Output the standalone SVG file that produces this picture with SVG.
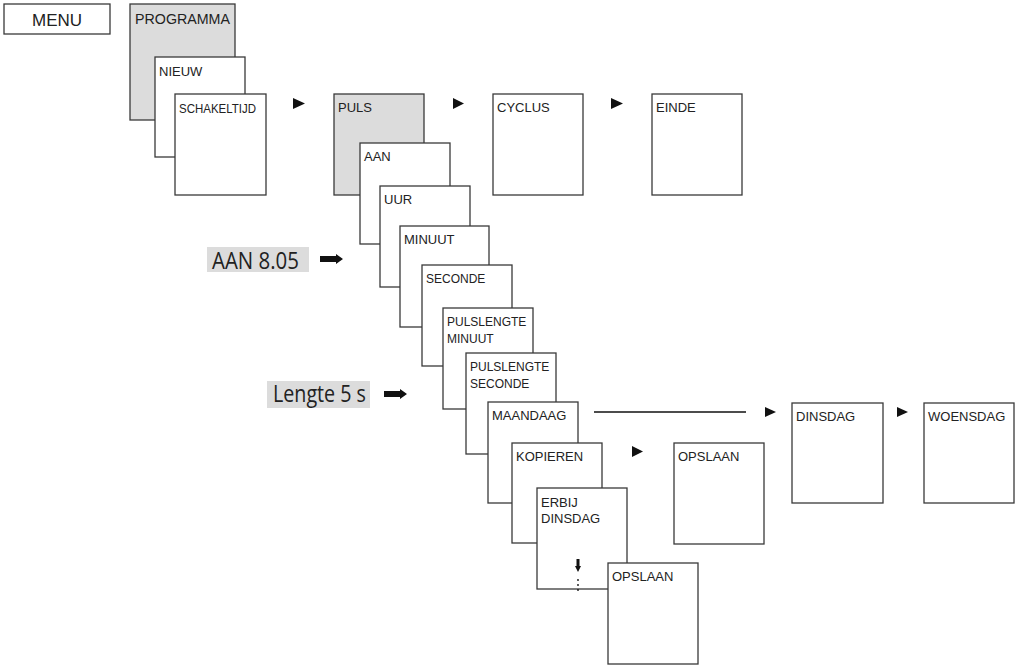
<svg xmlns="http://www.w3.org/2000/svg" width="1015" height="666" viewBox="0 0 1015 666">
<style>
.b{fill:#fff;stroke:#3a3a3a;stroke-width:1.3}
.g{fill:#dcdcdc;stroke:#3a3a3a;stroke-width:1.3}
.t{font-family:"Liberation Sans",Arial,sans-serif;font-size:13px;fill:#222}
.s{font-size:12px}
.lb{fill:#dcdcdc}
.lt{font-family:"Open Sans","DejaVu Sans",sans-serif;font-size:23px;fill:#222}
.tri{fill:#111}
</style>
<rect width="1015" height="666" fill="#fff"/>
<g id="menu"><rect class="b" x="4" y="4" width="106" height="30"/><text class="t" x="57" y="26" style="font-size:17px" text-anchor="middle" textLength="50" lengthAdjust="spacingAndGlyphs">MENU</text></g>
<g id="programma"><rect class="g" x="130" y="4" width="105" height="116"/><text class="t" x="135" y="24" style="font-size:14px" textLength="95" lengthAdjust="spacingAndGlyphs">PROGRAMMA</text></g>
<g id="nieuw"><rect class="b" x="155" y="57" width="90" height="100"/><text class="t" x="159" y="76">NIEUW</text></g>
<g id="schakeltijd"><rect class="b" x="175" y="94" width="91" height="101"/><text class="t" x="179" y="112.5" textLength="77" lengthAdjust="spacingAndGlyphs">SCHAKELTIJD</text></g>
<g id="puls"><rect class="g" x="334" y="94" width="90" height="101"/><text class="t" x="338" y="111.5">PULS</text></g>
<g id="cyclus"><rect class="b" x="493" y="94" width="90" height="101"/><text class="t" x="497" y="111.5">CYCLUS</text></g>
<g id="einde"><rect class="b" x="652" y="94" width="90" height="101"/><text class="t" x="656" y="111.5">EINDE</text></g>
<g id="aan"><rect class="b" x="360" y="143" width="90" height="101"/><text class="t" x="364" y="161">AAN</text></g>
<g id="uur"><rect class="b" x="380" y="186" width="90" height="101"/><text class="t" x="384" y="204">UUR</text></g>
<g id="minuut"><rect class="b" x="400" y="226" width="89" height="101"/><text class="t" x="404" y="244">MINUUT</text></g>
<g id="seconde"><rect class="b" x="422" y="265" width="90" height="101"/><text class="t s" x="426" y="283">SECONDE</text></g>
<g id="pulslengte-minuut"><rect class="b" x="443" y="308" width="90" height="101"/><text class="t s" x="447" y="326">PULSLENGTE</text><text class="t s" x="447" y="342.5">MINUUT</text></g>
<g id="pulslengte-seconde"><rect class="b" x="466" y="353" width="90" height="101"/><text class="t s" x="470" y="371">PULSLENGTE</text><text class="t s" x="470" y="387.5">SECONDE</text></g>
<g id="maandaag"><rect class="b" x="488" y="402" width="90" height="101"/><text class="t" x="492" y="420">MAANDAAG</text></g>
<g id="kopieren"><rect class="b" x="512" y="443" width="90" height="100"/><text class="t" x="516" y="461">KOPIEREN</text></g>
<g id="erbij-dinsdag"><rect class="b" x="537" y="488" width="90" height="101"/><text class="t" x="541" y="506.5">ERBIJ</text><text class="t" x="541" y="522.5">DINSDAG</text></g>
<g id="opslaan-2"><rect class="b" x="608" y="563" width="90" height="101"/><text class="t" x="612" y="581">OPSLAAN</text></g>
<g id="opslaan-1"><rect class="b" x="674" y="443" width="90" height="101"/><text class="t" x="678" y="461">OPSLAAN</text></g>
<g id="dinsdag"><rect class="b" x="792" y="403" width="91" height="100"/><text class="t" x="796" y="421">DINSDAG</text></g>
<g id="woensdag"><rect class="b" x="924" y="403" width="90" height="100"/><text class="t" x="928" y="421">WOENSDAG</text></g>
<g id="label-aan"><rect class="lb" x="207" y="247" width="102" height="25"/><text class="lt" x="212" y="269" textLength="87" lengthAdjust="spacingAndGlyphs">AAN 8.05</text></g>
<g id="label-lengte"><rect class="lb" x="267" y="381" width="103" height="27"/><text class="lt" x="273" y="402" textLength="93" lengthAdjust="spacingAndGlyphs">Lengte 5 s</text></g>
<g id="connectors">
<polygon class="tri" points="293,98 305,103.5 293,109"/>
<polygon class="tri" points="453,98 464,103.5 453,109"/>
<polygon class="tri" points="611,98 623,103.5 611,109"/>
<line x1="594" y1="412" x2="746" y2="412" stroke="#111" stroke-width="1.4"/>
<polygon class="tri" points="765,407 776,412 765,417"/>
<polygon class="tri" points="897,407 908,412 897,417"/>
<polygon class="tri" points="632,446 643,451.5 632,457"/>
<polygon class="tri" points="320,256 336,256 336,254 343,259 336,264 336,262 320,262"/>
<polygon class="tri" points="384,391 400,391 400,389 407,394 400,399 400,397 384,397"/>
<polygon class="tri" points="576.5,559 579.5,559 579.5,566 581,566 578,572 575,566 576.5,566"/>
<circle class="tri" cx="578" cy="580" r="0.9"/>
<circle class="tri" cx="578" cy="585" r="0.9"/>
<circle class="tri" cx="578" cy="590" r="0.9"/>
</g>
</svg>
